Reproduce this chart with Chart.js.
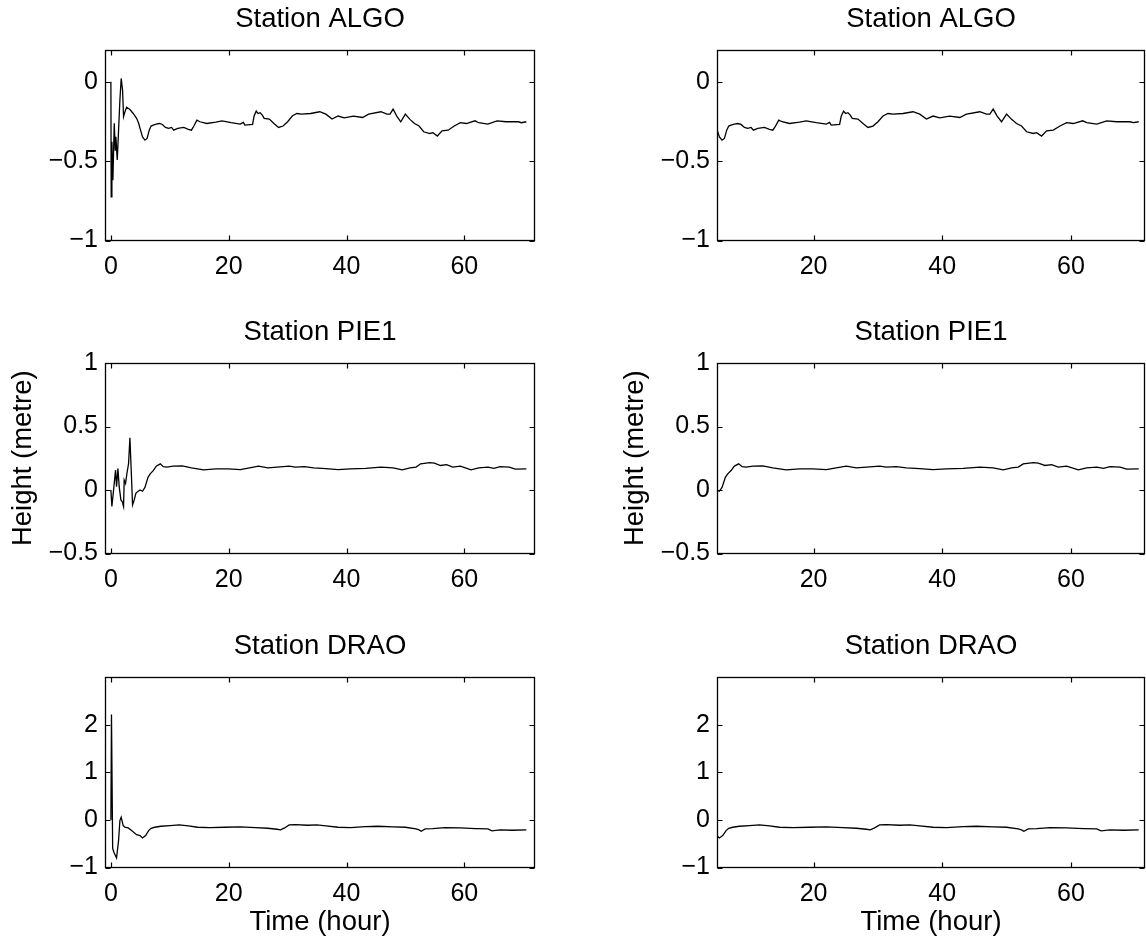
<!DOCTYPE html>
<html>
<head>
<meta charset="utf-8">
<script src="https://cdn.jsdelivr.net/npm/chart.js@4.4.1/dist/chart.umd.min.js"></script>
<style>
html, body { margin: 0; padding: 0; background: #ffffff; }
#wrap { position: relative; width: 1146px; height: 939px; overflow: hidden; background: #fff; }
.cell { position: absolute; width: 573px; height: 312px; }
.cell canvas { display: block; }
</style>
</head>
<body>
<div id="wrap">
  <div class="cell" style="left:0px;top:0px"><canvas id="c00" width="573" height="312"></canvas></div>
  <div class="cell" style="left:573px;top:0px"><canvas id="c01" width="573" height="312"></canvas></div>
  <div class="cell" style="left:0px;top:313px"><canvas id="c10" width="573" height="312"></canvas></div>
  <div class="cell" style="left:573px;top:313px"><canvas id="c11" width="573" height="312"></canvas></div>
  <div class="cell" style="left:0px;top:627px"><canvas id="c20" width="573" height="312"></canvas></div>
  <div class="cell" style="left:573px;top:627px"><canvas id="c21" width="573" height="312"></canvas></div>
</div>
<script>
// ---------------- DATA ----------------
const stationNames = ['ALGO', 'PIE1', 'DRAO'];
const xLabel = 'Time (hour)';
const yLabel = 'Height (metre)';

const algoTime = [0, 0.05, 0.17, 0.34, 0.57, 0.74, 0.85, 1.08, 1.53, 1.75, 1.98, 2.15, 2.38, 2.66, 3.23, 3.79, 4.36, 4.7, 4.95, 5.37, 5.78, 6.15, 6.51, 6.82, 7.19, 7.7, 8.22, 8.74, 9.26, 9.78, 10.3, 10.66, 11.34, 12.37, 13.15, 13.67, 14.09, 14.6, 15.12, 16.26, 17.82, 18.86, 20.42, 21.97, 22.49, 22.75, 24.05, 24.31, 24.67, 24.98, 25.34, 25.71, 26.02, 26.9, 27.68, 28.46, 29.23, 30.01, 30.79, 31.57, 32.35, 33.9, 35.46, 36.5, 37.54, 38.57, 39.61, 41.17, 42.72, 43.76, 45.84, 46.87, 47.39, 47.91, 48.53, 49.21, 49.99, 50.77, 51.54, 52.32, 53.1, 54.14, 54.66, 55.43, 56.21, 57.25, 58.29, 59.33, 60.36, 61.82, 62.44, 64.0, 65.55, 67.11, 69.18, 69.7, 70.53];
const algoHeight = [0, -0.725, -0.378, -0.62, -0.262, -0.43, -0.347, -0.493, -0.115, 0.021, -0.052, -0.22, -0.19, -0.161, -0.175, -0.2, -0.23, -0.26, -0.294, -0.347, -0.368, -0.357, -0.305, -0.279, -0.273, -0.267, -0.263, -0.269, -0.288, -0.294, -0.288, -0.305, -0.294, -0.288, -0.3, -0.305, -0.279, -0.242, -0.252, -0.263, -0.254, -0.246, -0.258, -0.267, -0.256, -0.273, -0.269, -0.216, -0.185, -0.2, -0.195, -0.21, -0.231, -0.235, -0.263, -0.288, -0.279, -0.252, -0.216, -0.2, -0.204, -0.2, -0.189, -0.204, -0.235, -0.216, -0.227, -0.216, -0.225, -0.204, -0.189, -0.204, -0.204, -0.172, -0.216, -0.252, -0.204, -0.237, -0.263, -0.279, -0.315, -0.326, -0.321, -0.342, -0.309, -0.305, -0.279, -0.258, -0.263, -0.246, -0.258, -0.267, -0.246, -0.252, -0.252, -0.258, -0.252];

const pieTime = [0, 0.17, 0.51, 0.79, 0.96, 1.19, 1.41, 1.70, 1.92, 2.15, 2.26, 2.49, 2.72, 3.0, 3.23, 3.45, 3.68, 3.96, 4.24, 4.53, 4.95, 5.37, 5.78, 6.3, 6.67, 7.19, 7.7, 8.38, 8.9, 9.52, 10.56, 12.11, 13.67, 15.75, 17.82, 19.9, 21.97, 23.53, 25.08, 26.64, 28.2, 30.27, 31.31, 32.87, 34.42, 36.5, 38.57, 40.65, 43.24, 45.84, 47.91, 49.47, 50.77, 51.8, 52.58, 54.14, 54.92, 55.95, 56.99, 58.03, 59.33, 61.14, 62.44, 64.0, 65.03, 66.07, 67.63, 68.66, 70.53];
const pieHeight = [0, -0.13, 0.026, 0.156, 0.026, 0.169, 0.026, -0.078, -0.091, -0.13, 0.078, 0.052, 0.13, 0.208, 0.411, 0.156, -0.117, -0.078, -0.026, -0.013, 0.0, -0.01, 0.02, 0.1, 0.127, 0.153, 0.188, 0.206, 0.184, 0.18, 0.188, 0.19, 0.174, 0.158, 0.166, 0.166, 0.161, 0.174, 0.188, 0.174, 0.18, 0.188, 0.18, 0.184, 0.174, 0.169, 0.161, 0.166, 0.171, 0.18, 0.174, 0.158, 0.174, 0.18, 0.206, 0.216, 0.211, 0.193, 0.2, 0.18, 0.188, 0.158, 0.174, 0.18, 0.171, 0.184, 0.18, 0.164, 0.166];

const draoTime = [0, 0.1, 0.3, 0.51, 0.96, 1.30, 1.53, 1.75, 2.09, 2.38, 2.94, 3.51, 4.36, 4.95, 5.37, 5.89, 6.41, 6.82, 7.44, 8.48, 10.04, 11.6, 13.15, 14.71, 16.78, 19.38, 21.97, 24.57, 26.64, 28.2, 28.82, 29.49, 30.27, 31.31, 33.39, 34.94, 36.5, 38.57, 40.65, 43.24, 45.32, 47.91, 49.99, 51.8, 52.32, 52.68, 53.36, 54.66, 56.73, 59.33, 61.92, 64.0, 64.67, 66.07, 68.15, 70.53];
const draoHeight = [0, 2.21, -0.6, -0.68, -0.8, -0.436, -0.014, 0.056, -0.12, -0.155, -0.169, -0.225, -0.31, -0.33, -0.38, -0.33, -0.225, -0.176, -0.155, -0.134, -0.12, -0.105, -0.127, -0.155, -0.162, -0.155, -0.148, -0.162, -0.176, -0.197, -0.211, -0.169, -0.105, -0.098, -0.113, -0.105, -0.127, -0.155, -0.162, -0.141, -0.134, -0.148, -0.155, -0.19, -0.211, -0.239, -0.19, -0.183, -0.162, -0.169, -0.183, -0.19, -0.232, -0.211, -0.218, -0.211];

// axis ranges / ticks
const xRangeFull = [-1, 72];
const xRangeZoom = [5, 71.5];
const xTicksFull = [0, 20, 40, 60];
const xTicksZoom = [20, 40, 60];
const algoYRange = [-1, 0.2];
const pieYRange = [-0.5, 1];
const draoYRange = [-1, 3];
const algoYTicks = [-1, -0.5, 0];
const pieYTicks = [-0.5, 0, 0.5, 1];
const draoYTicks = [-1, 0, 1, 2];

// ---------------- STYLE ----------------
const FONT = "'Liberation Sans', Arial, Helvetica, sans-serif";
const TICK_SIZE = 25;
const LABEL_SIZE = 27.5;
Chart.defaults.font.family = FONT;
Chart.defaults.color = '#000';

function fmt(v) {
  return String(v).replace('-', '\u2212');
}

const matlabBox = {
  id: 'matlabBox',
  afterDraw(chart) {
    const { ctx, chartArea: a, scales } = chart;
    const L = Math.round(a.left) + 0.5, R = Math.round(a.right) - 0.5;
    const T = Math.round(a.top) + 0.5, B = Math.round(a.bottom) - 0.5;
    const len = 5;
    ctx.save();
    ctx.strokeStyle = '#000';
    ctx.lineWidth = 1.2;
    ctx.beginPath();
    scales.x.ticks.forEach(t => {
      const px = Math.round(scales.x.getPixelForValue(t.value)) + 0.5;
      ctx.moveTo(px, B); ctx.lineTo(px, B - len);
      ctx.moveTo(px, T); ctx.lineTo(px, T + len);
    });
    scales.y.ticks.forEach(t => {
      const py = Math.round(scales.y.getPixelForValue(t.value)) + 0.5;
      ctx.moveTo(L, py); ctx.lineTo(L + len, py);
      ctx.moveTo(R, py); ctx.lineTo(R - len, py);
    });
    ctx.stroke();
    ctx.lineWidth = 1.3;
    ctx.strokeRect(L, T, R - L, B - T);
    ctx.restore();
  }
};

function panel(id, cfg) {
  const pts = cfg.time.map((t, i) => ({ x: t, y: cfg.height[i] }));
  new Chart(document.getElementById(id), {
    type: 'line',
    data: {
      datasets: [{
        data: pts,
        borderColor: '#000',
        borderWidth: 1.3,
        pointRadius: 0,
        fill: false,
        tension: 0,
        clip: 0
      }]
    },
    options: {
      responsive: false,
      animation: false,
      devicePixelRatio: 1,
      layout: { padding: { left: cfg.padL, right: cfg.padR, top: 0, bottom: 0 } },
      plugins: {
        legend: { display: false },
        tooltip: { enabled: false },
        title: {
          display: true,
          text: 'Station ' + cfg.name,
          fullSize: false,
          color: '#000',
          font: { family: FONT, size: LABEL_SIZE, weight: 'normal' },
          padding: { top: 2.5, bottom: 14.5 }
        }
      },
      scales: {
        x: {
          type: 'linear',
          min: cfg.xRange[0],
          max: cfg.xRange[1],
          grid: { display: false, drawTicks: false },
          border: { display: false },
          afterBuildTicks: s => { s.ticks = cfg.xTicks.map(v => ({ value: v })); },
          afterFit: s => { s.height = 71.5; },
          ticks: {
            color: '#000', padding: 12, maxRotation: 0, autoSkip: false,
            font: { family: FONT, size: TICK_SIZE },
            callback: v => fmt(v)
          },
          title: {
            display: cfg.showX,
            text: xLabel,
            color: '#000',
            font: { family: FONT, size: LABEL_SIZE },
            padding: { top: 0, bottom: 0 }
          }
        },
        y: {
          type: 'linear',
          min: cfg.yRange[0],
          max: cfg.yRange[1],
          grid: { display: false, drawTicks: false },
          border: { display: false },
          afterBuildTicks: s => { s.ticks = cfg.yTicks.map(v => ({ value: v })); },
          afterFit: s => { s.width = 105; },
          ticks: {
            color: '#000', padding: 7, autoSkip: false,
            font: { family: FONT, size: TICK_SIZE },
            callback: v => fmt(v)
          },
          title: {
            display: cfg.showY,
            text: yLabel,
            color: '#000',
            font: { family: FONT, size: LABEL_SIZE },
            padding: { top: 6.5, bottom: 0 }
          }
        }
      }
    },
    plugins: [matlabBox]
  });
}

const rows = [
  { name: stationNames[0], time: algoTime, height: algoHeight, yRange: algoYRange, yTicks: algoYTicks, showY: false, showX: false },
  { name: stationNames[1], time: pieTime, height: pieHeight, yRange: pieYRange, yTicks: pieYTicks, showY: true, showX: false },
  { name: stationNames[2], time: draoTime, height: draoHeight, yRange: draoYRange, yTicks: draoYTicks, showY: false, showX: true }
];

rows.forEach((r, i) => {
  panel('c' + i + '0', Object.assign({}, r, { xRange: xRangeFull, xTicks: xTicksFull, padL: 0, padR: 38 }));
  panel('c' + i + '1', Object.assign({}, r, { xRange: xRangeZoom, xTicks: xTicksZoom, padL: 39, padR: 1 }));
});
</script>
</body>
</html>
